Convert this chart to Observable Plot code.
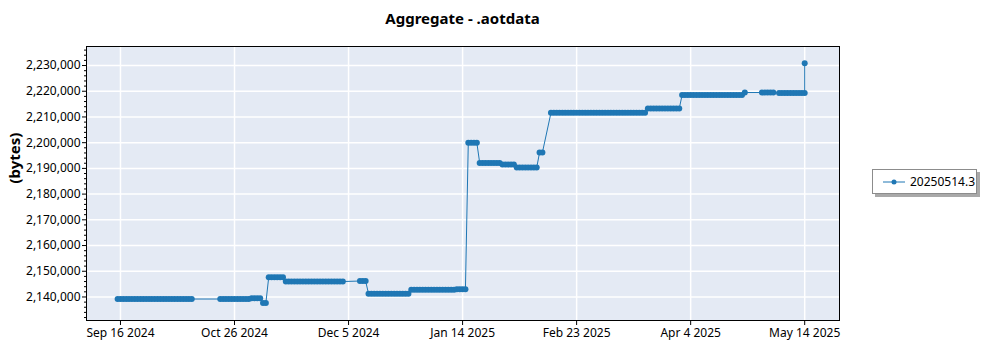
<!DOCTYPE html>
<html><head><meta charset="utf-8">
<script src="https://cdn.jsdelivr.net/npm/d3@7"></script>
<script src="https://cdn.jsdelivr.net/npm/@observablehq/plot@0.6"></script>
<style>
body{margin:0;background:#fff;font-family:"Noto Sans","Open Sans",sans-serif;}
#wrap{position:relative;width:1000px;height:350px;overflow:hidden;}
#title{height:36px;line-height:36px;margin-left:86px;width:753px;text-align:center;font-weight:bold;font-size:15px;color:#000;}
#legend{position:absolute;left:872px;top:169px;width:103px;height:23px;border:1px solid #8c8c8c;background:#fff;box-shadow:3px 3px 0 #a9a9a9;font-size:12px;display:flex;align-items:center;}
#legend svg{margin-left:10px;margin-right:5px;}
</style></head>
<body>
<div id="wrap">
<div id="title">Aggregate - .aotdata</div>
<div id="chart"></div>
<div id="legend"><svg width="22" height="10"><line x1="0" y1="5" x2="22" y2="5" stroke="#1f77b4" stroke-width="1"/><circle cx="11" cy="5" r="2.5" fill="#1f77b4"/></svg><span id="legname"></span></div>
</div>
<script>
const seriesName = "20250514.3";
const runStart = ["2024-09-15","2024-10-21","2024-11-01","2024-11-05","2024-11-07","2024-11-13","2024-12-09","2024-12-12","2024-12-27","2025-01-12","2025-01-16","2025-01-20","2025-01-28","2025-02-02","2025-02-10","2025-02-14","2025-03-20","2025-04-01","2025-04-23","2025-04-29","2025-05-05","2025-05-14"];
const runEnd   = ["2024-10-11","2024-10-31","2024-11-04","2024-11-06","2024-11-12","2024-12-03","2024-12-11","2024-12-26","2025-01-11","2025-01-15","2025-01-19","2025-01-27","2025-02-01","2025-02-09","2025-02-11","2025-03-19","2025-03-31","2025-04-22","2025-04-23","2025-05-03","2025-05-14","2025-05-14"];
const runValue = [2139200,2139200,2139500,2137700,2147700,2146000,2146200,2141250,2142800,2143000,2200000,2192100,2191500,2190300,2196200,2211600,2213300,2218500,2219500,2219500,2219300,2230850];
const xTickDates = ["2024-09-16","2024-10-26","2024-12-05","2025-01-14","2025-02-23","2025-04-04","2025-05-14"];
const yTickValues = [2140000,2150000,2160000,2170000,2180000,2190000,2200000,2210000,2220000,2230000];
const yLabel = "(bytes)";

const data = [];
runStart.forEach((s, i) => {
  const end = new Date(runEnd[i] + "T00:00Z");
  for (let d = new Date(s + "T00:00Z"); d <= end; d = d3.utcDay.offset(d, 1)) {
    data.push({date: d, value: runValue[i]});
  }
});
const xTicks = xTickDates.map(s => new Date(s + "T00:00Z"));
const minorY = d3.range(2132000, 2237000, 2000).filter(v => v % 10000 !== 0);
const fmtX = d3.utcFormat("%b %-d %Y");
const fmtY = d3.format(",");

const chart = Plot.plot({
  width: 1000, height: 314,
  marginLeft: 86, marginRight: 161, marginTop: 10, marginBottom: 30,
  style: {fontFamily: '"Noto Sans","Open Sans",sans-serif', fontSize: "12px", color: "#000", background: "transparent"},
  x: {type: "utc", domain: [new Date("2024-09-04T02:00Z"), new Date("2025-05-26T05:00Z")], label: null},
  y: {domain: [2130850, 2237400], label: null},
  marks: [
    Plot.frame({fill: "#e4eaf4", stroke: null}),
    Plot.gridX(xTicks, {stroke: "#fff", strokeOpacity: 1, strokeWidth: 1.5}),
    Plot.gridY(yTickValues, {stroke: "#fff", strokeOpacity: 1, strokeWidth: 1.5}),
    Plot.frame({stroke: "#000", strokeWidth: 1}),
    Plot.axisX(xTicks, {tickSize: 5, tickPadding: 3, tickFormat: fmtX, label: null}),
    Plot.axisY(yTickValues, {tickSize: 4, tickPadding: 2, tickFormat: fmtY, label: null}),
    Plot.axisY(minorY, {tickSize: 2, tickFormat: () => "", label: null}),
    Plot.line(data, {x: "date", y: "value", stroke: "#1f77b4", strokeWidth: 1}),
    Plot.dot(data, {x: "date", y: "value", r: 3, fill: "#1f77b4", stroke: null}),
    Plot.text([yLabel], {frameAnchor: "left", dx: -71, rotate: -90, fontWeight: "bold", fontSize: 15, text: d => d})
  ]
});
document.getElementById("chart").append(chart);
document.getElementById("legname").textContent = seriesName;
</script>
</body></html>
